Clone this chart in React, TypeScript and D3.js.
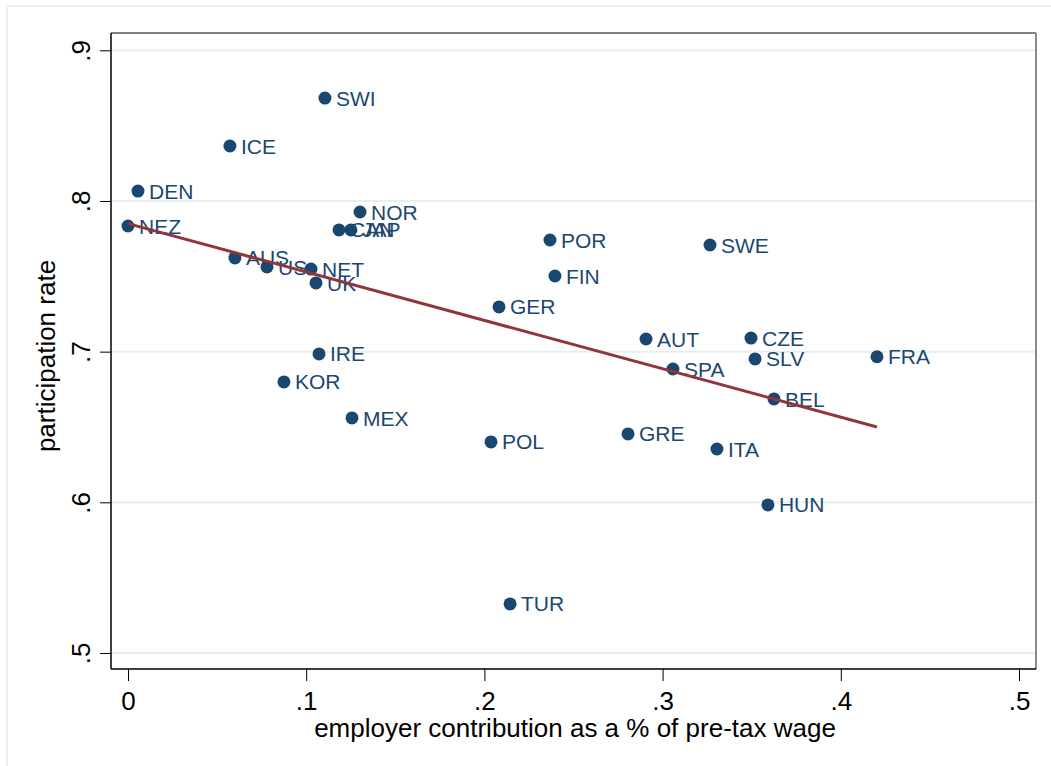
import React, { useEffect, useRef } from "react";
import * as d3 from "d3";

// employer contribution (x) vs participation rate (y)
const countries = [
  "NEZ", "DEN", "ICE", "SWI", "AUS", "US", "NET", "UK", "CAN", "JAP",
  "NOR", "IRE", "KOR", "MEX", "POL", "TUR", "GER", "POR", "FIN", "AUT",
  "SPA", "GRE", "ITA", "SWE", "CZE", "SLV", "BEL", "HUN", "FRA",
];
const contribution = [
  0.0, 0.0056, 0.0572, 0.1105, 0.06, 0.078, 0.1027, 0.1055, 0.1184, 0.1251,
  0.1302, 0.1072, 0.0875, 0.1257, 0.2037, 0.2144, 0.2082, 0.2368, 0.2396, 0.2907,
  0.3058, 0.2806, 0.3305, 0.3266, 0.3496, 0.3519, 0.3625, 0.3591, 0.4203,
];
const participation = [
  0.7834, 0.8066, 0.8365, 0.8683, 0.7622, 0.7562, 0.7548, 0.7456, 0.7808, 0.7808,
  0.7927, 0.6985, 0.6799, 0.656, 0.6401, 0.5326, 0.7297, 0.7741, 0.7502, 0.7084,
  0.6885, 0.6454, 0.6354, 0.7708, 0.709, 0.6952, 0.6686, 0.5983, 0.6966,
];

// fitted line end points
const fitX = [0, 0.4203];
const fitY = [0.785, 0.65];

const xTicks = [0, 0.1, 0.2, 0.3, 0.4, 0.5];
const yTicks = [0.5, 0.6, 0.7, 0.8, 0.9];

const fmt = (d: number) => (d === 0 ? "0" : d.toFixed(1).replace(/^0/, ""));

export default function App() {
  const svgRef = useRef<SVGSVGElement>(null);

  useEffect(() => {
    const w = 1051;
    const h = 766;
    const left = 111, right = 1036, top = 33, bottom = 669;
    const font = "'Liberation Sans', Arial, Helvetica, sans-serif";
    const navy = "#1a476f";

    const svg = d3.select(svgRef.current).attr("width", w).attr("height", h);
    svg.selectAll("*").remove();

    svg.append("rect").attr("width", w).attr("height", h).attr("fill", "#fff");
    // outer graph region border
    svg
      .append("rect")
      .attr("x", 7)
      .attr("y", 6)
      .attr("width", w + 10)
      .attr("height", h + 10)
      .attr("fill", "none")
      .attr("stroke", "#e8f0f1")
      .attr("stroke-width", 2);

    const xScale = d3.scaleLinear().domain([0, 0.5]).range([128, 1019]);
    const yScale = d3.scaleLinear().domain([0.5, 0.9]).range([653, 50.3]);

    // grid
    svg
      .selectAll(".grid")
      .data(yTicks)
      .enter()
      .append("line")
      .attr("x1", left)
      .attr("x2", right)
      .attr("y1", (d) => yScale(d))
      .attr("y2", (d) => yScale(d))
      .attr("stroke", "#e6eff0")
      .attr("stroke-width", 2);

    // plot frame
    svg.append("line").attr("x1", left).attr("x2", right).attr("y1", top).attr("y2", top)
      .attr("stroke", "#555").attr("stroke-width", 1.5);
    svg.append("line").attr("x1", right).attr("x2", right).attr("y1", top).attr("y2", bottom)
      .attr("stroke", "#8a8a8a").attr("stroke-width", 2);

    // axes
    const xAxis = d3.axisBottom(xScale).tickValues(xTicks).tickFormat((d) => fmt(+d)).tickSize(12).tickSizeOuter(0);
    const gx = svg.append("g").attr("transform", `translate(0, ${bottom})`).call(xAxis);
    gx.select(".domain").attr("d", `M${left},0H${right}`).attr("stroke", "#000").attr("stroke-width", 1.5);
    gx.selectAll(".tick line").attr("stroke", "#000");
    gx.selectAll(".tick text")
      .attr("y", 41)
      .attr("dy", null)
      .attr("fill", "#000")
      .style("font-family", font)
      .style("font-size", "26px");

    const yAxis = d3.axisLeft(yScale).tickValues(yTicks).tickFormat((d) => fmt(+d)).tickSize(11).tickSizeOuter(0);
    const gy = svg.append("g").attr("transform", `translate(${left}, 0)`).call(yAxis);
    gy.select(".domain").attr("d", `M0,${top}V${bottom}`).attr("stroke", "#000").attr("stroke-width", 1.5);
    gy.selectAll(".tick line").attr("stroke", "#000");
    gy.selectAll(".tick text")
      .attr("x", null)
      .attr("dy", null)
      .attr("transform", "translate(-21,0) rotate(-90)")
      .attr("text-anchor", "middle")
      .attr("fill", "#000")
      .style("font-family", font)
      .style("font-size", "26px");

    // axis titles
    svg
      .append("text")
      .attr("x", 575)
      .attr("y", 737)
      .attr("text-anchor", "middle")
      .style("font-family", font)
      .style("font-size", "26px")
      .text("employer contribution as a % of pre-tax wage");
    svg
      .append("text")
      .attr("transform", "translate(55, 356) rotate(-90)")
      .attr("text-anchor", "middle")
      .style("font-family", font)
      .style("font-size", "26px")
      .text("participation rate");

    const pts = countries.map((c, i) => ({ c, x: contribution[i], y: participation[i] }));

    // points
    svg
      .selectAll(".dot")
      .data(pts)
      .enter()
      .append("circle")
      .attr("cx", (d) => xScale(d.x))
      .attr("cy", (d) => yScale(d.y))
      .attr("r", 6.5)
      .attr("fill", navy);

    svg
      .selectAll(".lbl")
      .data(pts)
      .enter()
      .append("text")
      .attr("x", (d) => xScale(d.x) + 11)
      .attr("y", (d) => yScale(d.y))
      .attr("dy", "0.36em")
      .attr("fill", navy)
      .style("font-family", font)
      .style("font-size", "21px")
      .text((d) => d.c);

    // linear fit
    const line = d3
      .line<number>()
      .x((d) => xScale(d))
      .y((d, i) => yScale(fitY[i]));
    svg
      .append("path")
      .attr("d", line(fitX))
      .attr("fill", "none")
      .attr("stroke", "#90353b")
      .attr("stroke-width", 3);
  }, []);

  return (
    <div style={{ position: "absolute", left: 0, top: 0 }}>
      <svg ref={svgRef}></svg>
    </div>
  );
}
